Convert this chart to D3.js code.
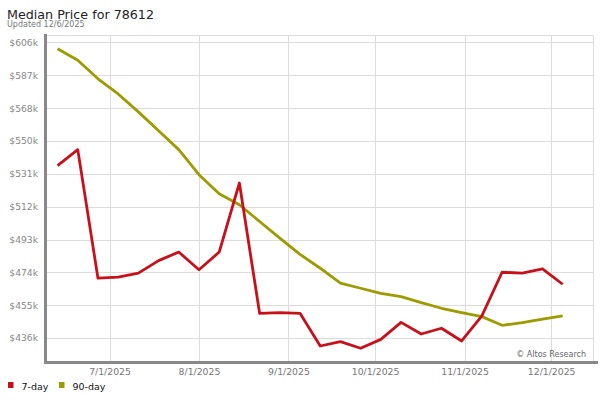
<!DOCTYPE html>
<html>
<head>
<meta charset="utf-8">
<script src="https://cdn.jsdelivr.net/npm/d3@7"></script>
<style>
  body { margin: 0; background: #fff; }
  svg { display: block; font-family: "DejaVu Sans", Verdana, sans-serif; }
</style>
</head>
<body>
<svg id="chart" width="600" height="400"></svg>
<script>
// weekly points, 6/13/2025 .. 12/5/2025
var dates = [
  "2025-06-13", "2025-06-20", "2025-06-27", "2025-07-04", "2025-07-11",
  "2025-07-18", "2025-07-25", "2025-08-01", "2025-08-08", "2025-08-15",
  "2025-08-22", "2025-08-29", "2025-09-05", "2025-09-12", "2025-09-19",
  "2025-09-26", "2025-10-03", "2025-10-10", "2025-10-17", "2025-10-24",
  "2025-10-31", "2025-11-07", "2025-11-14", "2025-11-21", "2025-11-28",
  "2025-12-05"
];

// values in $k
var sevenDay = [
  535.4, 544.6, 470.7, 471.3, 473.6, 480.8, 485.7, 475.5, 485.7, 525.4,
  450.5, 450.9, 450.5, 431.7, 434.2, 430.4, 435.5, 445.3, 438.6, 441.9,
  434.6, 449.0, 474.1, 473.6, 476.0, 467.2
];

var ninetyDay = [
  602.6, 596.0, 585.3, 576.6, 566.3, 555.5, 544.6, 530.2, 519.2, 512.9,
  503.3, 493.7, 484.4, 476.4, 467.8, 464.9, 462.0, 460.1, 456.6, 453.4,
  450.9, 448.6, 443.6, 445.1, 447.1, 449.0
];

var yTickValues = [436.3, 455.2, 474.0, 492.9, 511.8, 530.7, 549.6, 568.4, 587.3, 606.2];
var yTickLabels = ["$436k", "$455k", "$474k", "$493k", "$512k", "$531k", "$550k", "$568k", "$587k", "$606k"];

var xTickDates = ["2025-07-01", "2025-08-01", "2025-09-01", "2025-10-01", "2025-11-01", "2025-12-01"];
var xTickLabels = ["7/1/2025", "8/1/2025", "9/1/2025", "10/1/2025", "11/1/2025", "12/1/2025"];

var seriesNames = ["7-day", "90-day"];
var seriesColors = ["#c8101a", "#9c9c00"];

var svg = d3.select("#chart");
var plotLeft = 46, plotRight = 593, plotTop = 35.5, plotBottom = 361;

var x = d3.scaleUtc()
  .domain([new Date("2025-06-09T00:00:00Z"), new Date("2025-12-15T12:00:00Z")])
  .range([plotLeft, plotRight]);

var y = d3.scaleLinear()
  .domain([423.08, 610.2])
  .range([plotBottom, plotTop]);

var parse = function (s) { return new Date(s + "T00:00:00Z"); };

// title
svg.append("text")
  .attr("x", 7).attr("y", 18.5)
  .style("font-size", "12.7px").style("fill", "#222")
  .text("Median Price for 78612");
svg.append("text")
  .attr("x", 7).attr("y", 27)
  .style("font-size", "8px").style("fill", "#777")
  .text("Updated 12/6/2025");

// grid
var grid = svg.append("g").attr("class", "grid");
grid.selectAll(".hgrid")
  .data(yTickValues)
  .enter()
  .append("line")
  .attr("x1", plotLeft).attr("x2", plotRight)
  .attr("y1", function (d) { return Math.round(y(d)) + 0.5; })
  .attr("y2", function (d) { return Math.round(y(d)) + 0.5; })
  .style("stroke", "#dcdcdc");
grid.selectAll(".vgrid")
  .data(xTickDates)
  .enter()
  .append("line")
  .attr("x1", function (d) { return Math.round(x(parse(d))) + 0.5; })
  .attr("x2", function (d) { return Math.round(x(parse(d))) + 0.5; })
  .attr("y1", plotTop).attr("y2", plotBottom)
  .style("stroke", "#dcdcdc");
// plot border top / right
grid.append("line")
  .attr("x1", plotLeft).attr("x2", plotRight + 0.5)
  .attr("y1", plotTop).attr("y2", plotTop)
  .style("stroke", "#dcdcdc");
grid.append("line")
  .attr("x1", plotRight + 0.5).attr("x2", plotRight + 0.5)
  .attr("y1", plotTop).attr("y2", plotBottom)
  .style("stroke", "#dcdcdc");

// axis labels
var yAxis = d3.axisLeft(y)
  .tickValues(yTickValues)
  .tickFormat(function (d, i) { return yTickLabels[i]; })
  .tickSize(0)
  .tickPadding(8);
var gy = svg.append("g").attr("transform", "translate(" + plotLeft + ",0)").call(yAxis);
gy.select(".domain").remove();
gy.selectAll("text")
  .style("font-family", "DejaVu Sans, sans-serif")
  .style("font-size", "9.2px").style("fill", "#888");

var xAxis = d3.axisBottom(x)
  .tickValues(xTickDates.map(parse))
  .tickFormat(function (d, i) { return xTickLabels[i]; })
  .tickSize(0)
  .tickPadding(7);
var gx = svg.append("g").attr("transform", "translate(0," + plotBottom + ")").call(xAxis);
gx.select(".domain").remove();
gx.selectAll("text")
  .style("font-family", "DejaVu Sans, sans-serif")
  .style("font-size", "9.3px").style("fill", "#777");

// axis lines
svg.append("line")
  .attr("x1", 45.5).attr("x2", 45.5)
  .attr("y1", 34).attr("y2", 364)
  .style("stroke", "#888").style("stroke-width", 3);
svg.append("line")
  .attr("x1", 44).attr("x2", 598)
  .attr("y1", 362.5).attr("y2", 362.5)
  .style("stroke", "#888").style("stroke-width", 3);

// watermark
svg.append("text")
  .attr("x", 586).attr("y", 357)
  .attr("text-anchor", "end")
  .style("font-size", "8px").style("fill", "#666")
  .text("\u00a9 Altos Research");

// lines
var line = d3.line()
  .x(function (d) { return x(parse(d.date)); })
  .y(function (d) { return y(d.value); });

[ninetyDay, sevenDay].forEach(function (vals, k) {
  var idx = k === 0 ? 1 : 0;
  var pts = dates.map(function (d, i) { return { date: d, value: vals[i] }; });
  svg.append("path")
    .datum(pts)
    .attr("d", line)
    .style("fill", "none")
    .style("stroke", seriesColors[idx])
    .style("stroke-width", 2.8)
    .style("stroke-linejoin", "round");
});

// legend
var legendX = [8, 59];
var lg = svg.selectAll(".legend")
  .data(seriesNames)
  .enter()
  .append("g")
  .attr("transform", function (d, i) { return "translate(" + legendX[i] + ",382)"; });
lg.append("rect")
  .attr("width", 5.5).attr("height", 6)
  .style("fill", function (d, i) { return seriesColors[i]; });
lg.append("text")
  .attr("x", 13.5).attr("y", 8)
  .style("font-size", "9.5px").style("fill", "#111")
  .text(function (d) { return d; });
</script>
</body>
</html>
